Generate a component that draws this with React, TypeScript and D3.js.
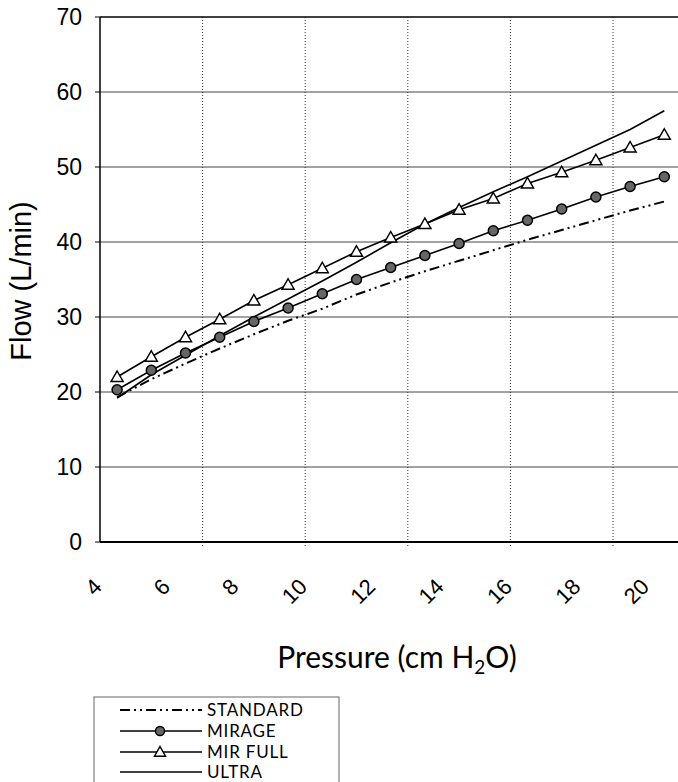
import React from "react";
import * as d3 from "d3";

const pressures = [4, 5, 6, 7, 8, 9, 10, 11, 12, 13, 14, 15, 16, 17, 18, 19, 20];
const standard = [19.3, 21.7, 23.8, 25.8, 27.7, 29.5, 31.1, 33.0, 34.6, 36.1, 37.5, 38.9, 40.3, 41.6, 42.9, 44.2, 45.4];
const mirage = [20.3, 22.9, 25.2, 27.3, 29.4, 31.2, 33.1, 35.0, 36.6, 38.2, 39.8, 41.5, 42.9, 44.4, 46.0, 47.4, 48.7];
const mirFull = [22.0, 24.7, 27.3, 29.7, 32.2, 34.3, 36.5, 38.7, 40.6, 42.4, 44.3, 45.8, 47.8, 49.3, 50.9, 52.6, 54.3];
const ultra = [19.2, 22.3, 24.9, 27.5, 30.0, 32.4, 34.8, 37.3, 39.9, 42.4, 44.6, 46.7, 48.7, 50.8, 52.9, 55.0, 57.5];
const yTicks = [0, 10, 20, 30, 40, 50, 60, 70];
const xTickLabels = [4, 6, 8, 10, 12, 14, 16, 18, 20];
const seriesNames = ["STANDARD", "MIRAGE", "MIR FULL", "ULTRA"];

export default function App() {
  const W = 678, H = 782;
  const left = 100, top = 17, bottom = 542;
  const right = left + 17 * 34.2;
  const x = d3.scaleBand<number>().domain(pressures).range([left, right]).padding(0);
  const cx = (p: number) => (x(p) as number) + x.bandwidth() / 2;
  const y = d3.scaleLinear().domain([0, 70]).range([bottom, top]);
  const line = (vals: number[]) =>
    d3.line<number>().x((_, i) => cx(pressures[i])).y((v) => y(v))(vals) as string;

  const gridIdx = [3, 6, 9, 12, 15];
  const titleFont = "Lato, 'Open Sans', sans-serif";
  const numFont = "'Liberation Sans', Arial, sans-serif";

  const tri = (px: number, py: number, s = 6) =>
    `M${px},${py - s} L${px + s},${py + s * 0.75} L${px - s},${py + s * 0.75} Z`;

  const legendY = [710, 731, 752, 772];
  const dash = "10,4,2,4,2,4";

  return (
    <svg width={W} height={H} style={{ position: "absolute", left: 0, top: 0, background: "#fff" }}>
      <rect x={0} y={0} width={W} height={H} fill="#fff" />
      {/* horizontal gridlines */}
      {yTicks.filter((t) => t > 0 && t < 70).map((t) => (
        <line key={"h" + t} x1={left} x2={W} y1={y(t)} y2={y(t)} stroke="#444" strokeWidth={1} />
      ))}
      {/* vertical gridlines */}
      {gridIdx.map((i) => (
        <line key={"v" + i} x1={x(pressures[i]) as number} x2={x(pressures[i]) as number} y1={top} y2={bottom + 6}
          stroke="#333" strokeWidth={1} strokeDasharray="1,2" />
      ))}
      {/* axes */}
      <line x1={left} x2={W} y1={top} y2={top} stroke="#000" strokeWidth={1.5} />
      <line x1={left} x2={left} y1={top} y2={bottom} stroke="#000" strokeWidth={1.5} />
      <line x1={left} x2={W} y1={bottom} y2={bottom} stroke="#000" strokeWidth={2} />
      {yTicks.map((t) => (
        <g key={"yt" + t}>
          <line x1={left - 5} x2={left} y1={y(t)} y2={y(t)} stroke="#000" />
          <text x={82} y={y(t)} dy="0.36em" textAnchor="end" fontFamily={numFont} fontSize={23} fill="#000">{t}</text>
        </g>
      ))}
      {xTickLabels.map((p) => (
        <text key={"xt" + p} transform={`translate(${cx(p) - 14},${588}) rotate(-45)`} textAnchor="end"
          fontFamily={numFont} fontSize={22} fill="#000">{p}</text>
      ))}
      {/* series */}
      <path d={line(standard)} fill="none" stroke="#000" strokeWidth={2} strokeDasharray={dash} />
      <path d={line(ultra)} fill="none" stroke="#000" strokeWidth={1.6} />
      <path d={line(mirage)} fill="none" stroke="#000" strokeWidth={1.6} />
      <path d={line(mirFull)} fill="none" stroke="#000" strokeWidth={1.6} />
      {mirage.map((v, i) => (
        <circle key={"c" + i} cx={cx(pressures[i])} cy={y(v)} r={5} fill="#666" stroke="#000" strokeWidth={1.5} />
      ))}
      {mirFull.map((v, i) => (
        <path key={"t" + i} d={tri(cx(pressures[i]), y(v))} fill="#fff" stroke="#000" strokeWidth={1.5} />
      ))}
      {/* titles */}
      <text transform={`translate(31,281) rotate(-90)`} textAnchor="middle" fontFamily={numFont} fontSize={29} fill="#000">Flow (L/min)</text>
      <text x={397} y={668} textAnchor="middle" fontFamily={titleFont} fontSize={30} fill="#000">
        Pressure (cm H<tspan fontSize={19} dy={6}>2</tspan><tspan dy={-6}>O)</tspan>
      </text>
      {/* legend */}
      <rect x={94} y={697} width={245} height={110} fill="none" stroke="#666" strokeWidth={1} />
      {seriesNames.map((n, i) => (
        <g key={n}>
          <line x1={120} x2={202} y1={legendY[i]} y2={legendY[i]} stroke="#000" strokeWidth={i === 0 ? 2 : 1.6}
            strokeDasharray={i === 0 ? dash : undefined} />
          {i === 1 && <circle cx={160} cy={legendY[i]} r={4.5} fill="#666" stroke="#000" strokeWidth={1.5} />}
          {i === 2 && <path d={tri(160, legendY[i], 5.5)} fill="#fff" stroke="#000" strokeWidth={1.5} />}
          <text x={207} y={legendY[i] + 6} fontFamily={titleFont} fontSize={17} letterSpacing={0.8} fill="#000">{n}</text>
        </g>
      ))}
    </svg>
  );
}
